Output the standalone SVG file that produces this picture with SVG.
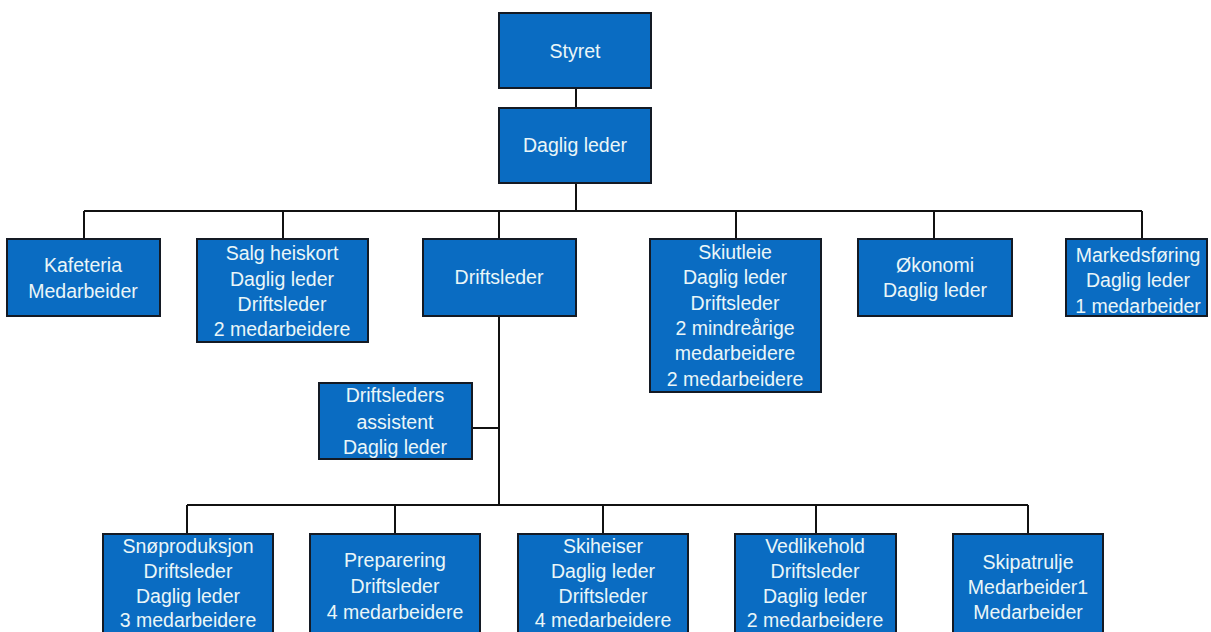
<svg xmlns="http://www.w3.org/2000/svg" width="1211" height="632" viewBox="0 0 1211 632">
<style>
.box{fill:#0a6cc2;stroke:#141a24;stroke-width:2}
.t{font-family:"Liberation Sans",Arial,sans-serif;font-size:19.5px;fill:#eaf6f8;text-anchor:middle;dominant-baseline:central}
.c{fill:none;stroke:#111;stroke-width:2}
</style>
<rect width="1211" height="632" fill="#fff"/>
<g id="connectors">
<path class="c" d="M576 88V108M576 183V211M84 211H1142M84 211V239M283 211V239M499 211V239M736 211V239M934 211V239M1142 211V239"/>
<path class="c" d="M499 316V505M472 428H499M187 505H1028M187 505V534M395 505V534M603 505V534M816 505V534M1028 505V534"/>
</g>
<g id="styret"><rect class="box" x="499" y="13" width="152" height="75"/><text class="t" x="575" y="51">Styret</text></g>
<g id="daglig-leder"><rect class="box" x="499" y="108" width="152" height="75"/><text class="t" x="575" y="145">Daglig leder</text></g>
<g id="kafeteria"><rect class="box" x="7" y="239" width="153" height="77"/><text class="t" x="83" y="265">Kafeteria</text><text class="t" x="83" y="291">Medarbeider</text></g>
<g id="salg-heiskort"><rect class="box" x="197" y="239" width="171" height="103"/><text class="t" x="282" y="253">Salg heiskort</text><text class="t" x="282" y="279">Daglig leder</text><text class="t" x="282" y="304">Driftsleder</text><text class="t" x="282" y="329">2 medarbeidere</text></g>
<g id="driftsleder"><rect class="box" x="423" y="239" width="153" height="77"/><text class="t" x="499" y="277">Driftsleder</text></g>
<g id="skiutleie"><rect class="box" x="650" y="239" width="171" height="153"/><text class="t" x="735" y="252">Skiutleie</text><text class="t" x="735" y="277">Daglig leder</text><text class="t" x="735" y="303">Driftsleder</text><text class="t" x="735" y="328">2 mindreårige</text><text class="t" x="735" y="353">medarbeidere</text><text class="t" x="735" y="379">2 medarbeidere</text></g>
<g id="okonomi"><rect class="box" x="858" y="239" width="154" height="77"/><text class="t" x="935" y="265">Økonomi</text><text class="t" x="935" y="290">Daglig leder</text></g>
<g id="markedsforing"><rect class="box" x="1066" y="239" width="141" height="77"/><text class="t" x="1138" y="255">Markedsføring</text><text class="t" x="1138" y="280">Daglig leder</text><text class="t" x="1138" y="306">1 medarbeider</text></g>
<g id="driftsleders-assistent"><rect class="box" x="319" y="383" width="153" height="76"/><text class="t" x="395" y="395">Driftsleders</text><text class="t" x="395" y="422">assistent</text><text class="t" x="395" y="447">Daglig leder</text></g>
<g id="snoproduksjon"><rect class="box" x="103" y="534" width="170" height="110"/><text class="t" x="188" y="546">Snøproduksjon</text><text class="t" x="188" y="571">Driftsleder</text><text class="t" x="188" y="596">Daglig leder</text><text class="t" x="188" y="620">3 medarbeidere</text></g>
<g id="preparering"><rect class="box" x="310" y="534" width="170" height="110"/><text class="t" x="395" y="560">Preparering</text><text class="t" x="395" y="586">Driftsleder</text><text class="t" x="395" y="612">4 medarbeidere</text></g>
<g id="skiheiser"><rect class="box" x="518" y="534" width="170" height="110"/><text class="t" x="603" y="546">Skiheiser</text><text class="t" x="603" y="571">Daglig leder</text><text class="t" x="603" y="596">Driftsleder</text><text class="t" x="603" y="620">4 medarbeidere</text></g>
<g id="vedlikehold"><rect class="box" x="735" y="534" width="161" height="110"/><text class="t" x="815" y="546">Vedlikehold</text><text class="t" x="815" y="571">Driftsleder</text><text class="t" x="815" y="596">Daglig leder</text><text class="t" x="815" y="620">2 medarbeidere</text></g>
<g id="skipatrulje"><rect class="box" x="953" y="534" width="150" height="110"/><text class="t" x="1028" y="562">Skipatrulje</text><text class="t" x="1028" y="587">Medarbeider1</text><text class="t" x="1028" y="612">Medarbeider</text></g>
</svg>
